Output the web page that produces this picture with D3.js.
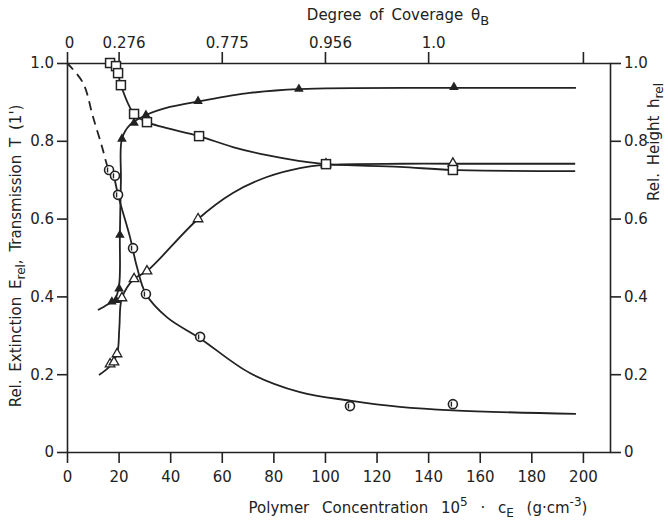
<!DOCTYPE html>
<html>
<head>
<meta charset="utf-8">
<script src="https://cdn.jsdelivr.net/npm/d3@7"></script>
<style>
  body { margin: 0; background: #fff; }
  text { font-family: 'DejaVu Sans', sans-serif; fill: #222; }
  .axis path, .axis line { stroke: #222; stroke-width: 1.6; }
  .axis text { font-size: 15px; }
  .curve { fill: none; stroke: #222; stroke-width: 1.8; }
  .title { font-size: 15px; word-spacing: 3px; }
</style>
</head>
<body>
<svg width="668" height="523"></svg>
<script>
// polymer concentration (x) and values
var xTicks = [0, 20, 40, 60, 80, 100, 120, 140, 160, 180, 200]
var yTicks = [0, 0.2, 0.4, 0.6, 0.8, 1.0]
var topTickPos = [0, 20, 60, 100, 140, 200]
var topTickLabels = ['0', '0.276', '0.775', '0.956', '1.0', '']

// filled triangles
var filledTriX = [17.4, 19, 20.2, 20.5, 21.3, 26, 30.6, 50.8, 89.9, 150]
var filledTriY = [0.386, 0.39, 0.42, 0.558, 0.805, 0.846, 0.866, 0.902, 0.933, 0.938]
var filledCurveX = [12, 15.9, 18.6, 20.2, 20.5, 20.9, 21.3, 24.4, 30.6, 39.9, 51.6, 70.9, 89.9, 150, 197.3]
var filledCurveY = [0.365, 0.38, 0.393, 0.429, 0.558, 0.699, 0.805, 0.841, 0.866, 0.887, 0.902, 0.923, 0.933, 0.936, 0.936]

// open triangles
var openTriX = [16.7, 18.2, 19.4, 21.3, 26, 31, 50.8, 100.4, 149.6]
var openTriY = [0.226, 0.231, 0.252, 0.396, 0.445, 0.465, 0.599, 0.74, 0.742]
var openCurveX = [12.4, 16.7, 19.4, 20.3, 21.3, 26, 31, 50.8, 64.3, 77.5, 90.3, 100.4, 130, 149.6, 197]
var openCurveY = [0.198, 0.221, 0.252, 0.32, 0.396, 0.445, 0.465, 0.599, 0.666, 0.707, 0.73, 0.738, 0.741, 0.741, 0.741]

// open squares
var squareX = [16.7, 19, 19.8, 20.9, 26, 31, 51.2, 100.4, 149.6]
var squareY = [1.0, 0.992, 0.974, 0.943, 0.869, 0.848, 0.812, 0.74, 0.725]
var squareCurveX = [16.7, 19, 19.8, 20.9, 26, 31, 51.2, 64.3, 77.5, 90.3, 100.4, 129, 149.6, 197]
var squareCurveY = [1.0, 0.992, 0.974, 0.943, 0.869, 0.848, 0.812, 0.784, 0.763, 0.748, 0.74, 0.733, 0.725, 0.722]

// circles (transmission)
var circleX = [16.3, 18.6, 19.8, 25.6, 30.6, 51.6, 109.7, 149.6]
var circleY = [0.725, 0.71, 0.661, 0.524, 0.406, 0.296, 0.118, 0.123]
var circleCurveX = [17.8, 19.8, 24.4, 27.1, 30.6, 38.8, 51.6, 70.9, 90.3, 109.7, 129, 149.6, 197.3]
var circleCurveY = [0.725, 0.661, 0.553, 0.476, 0.406, 0.346, 0.292, 0.203, 0.154, 0.132, 0.116, 0.107, 0.098]
var dashedX = [0, 6.2, 10.1, 13.6, 15.5, 16.3]
var dashedY = [1.0, 0.949, 0.861, 0.784, 0.738, 0.725]

function zip(xs, ys) { return xs.map(function(d, i) { return [d, ys[i]] }) }

var svg = d3.select('svg')
var x = d3.scaleLinear().domain([0, 210.5]).range([67, 610])
var y = d3.scaleLinear().domain([0, 1]).range([452, 63])
var fmt = function(d) { return d === 0 ? '0' : d.toFixed(1) }

svg.append('g').attr('class', 'axis')
  .attr('transform', 'translate(0,452)')
  .call(d3.axisBottom(x).tickValues(xTicks).tickSize(11).tickSizeOuter(0).tickPadding(8))
var topAxis = svg.append('g').attr('class', 'axis')
  .attr('transform', 'translate(0,63)')
  .call(d3.axisTop(x).tickValues(topTickPos).tickSize(11).tickSizeOuter(0).tickPadding(4)
    .tickFormat(function(d, i) { return topTickLabels[i] }))
topAxis.selectAll('.tick text').attr('dx', function(d) { return d === 0 ? 2 : 5 })
svg.append('g').attr('class', 'axis')
  .attr('transform', 'translate(67,0)')
  .call(d3.axisLeft(y).tickValues(yTicks).tickSize(10).tickSizeOuter(0).tickPadding(3).tickFormat(fmt))
svg.append('g').attr('class', 'axis')
  .attr('transform', 'translate(610,0)')
  .call(d3.axisRight(y).tickValues(yTicks).tickSize(11).tickSizeOuter(0).tickPadding(3).tickFormat(fmt))

// axis titles
var bt = svg.append('text').attr('class', 'title').attr('x', 418).attr('y', 513).attr('text-anchor', 'middle')
  .style('word-spacing', '8px')
bt.append('tspan').text('Polymer  Concentration  10')
bt.append('tspan').attr('dy', -7).style('font-size', '12px').text('5')
bt.append('tspan').attr('dy', 7).text(' \u00b7 c')
bt.append('tspan').attr('dy', 4).style('font-size', '12px').text('E')
bt.append('tspan').attr('dy', -4).text(' (g\u00b7cm')
bt.append('tspan').attr('dy', -7).style('font-size', '12px').text('-3')
bt.append('tspan').attr('dy', 7).text(')')

var tt = svg.append('text').attr('class', 'title').attr('x', 398).attr('y', 20).attr('text-anchor', 'middle')
tt.append('tspan').text('Degree of Coverage \u03b8')
tt.append('tspan').attr('dy', 5).style('font-size', '13px').text('B')

var lt = svg.append('text').attr('class', 'title').attr('transform', 'translate(21,256) rotate(-90)')
  .attr('text-anchor', 'middle')
lt.append('tspan').text('Rel. Extinction  E')
lt.append('tspan').attr('dy', 4).style('font-size', '12px').text('rel')
lt.append('tspan').attr('dy', -4).text(',  Transmission T (1\')')

var rt = svg.append('text').attr('class', 'title').attr('transform', 'translate(659,142) rotate(-90)')
  .attr('text-anchor', 'middle')
rt.append('tspan').text('Rel.  Height   h')
rt.append('tspan').attr('dy', 4).style('font-size', '12px').text('rel')

// curves
var line = d3.line().x(function(d) { return x(d[0]) }).y(function(d) { return y(d[1]) })
  .curve(d3.curveCatmullRom.alpha(0.5))
var curves = [zip(filledCurveX, filledCurveY), zip(openCurveX, openCurveY), zip(squareCurveX, squareCurveY), zip(circleCurveX, circleCurveY)]
svg.selectAll('path.curve').data(curves).enter().append('path')
  .attr('class', 'curve').attr('d', line)
svg.append('path').datum(zip(dashedX, dashedY)).attr('class', 'curve')
  .attr('stroke-dasharray', '9,6').attr('d', line)

// markers
var tri = d3.symbol().type(d3.symbolTriangle).size(40)
svg.selectAll('path.ftri').data(zip(filledTriX, filledTriY)).enter().append('path')
  .attr('class', 'ftri').attr('d', tri)
  .attr('transform', function(d) { return 'translate(' + x(d[0]) + ',' + y(d[1]) + ')' })
  .attr('fill', '#222')
svg.selectAll('path.otri').data(zip(openTriX, openTriY)).enter().append('path')
  .attr('class', 'otri').attr('d', tri)
  .attr('transform', function(d) { return 'translate(' + x(d[0]) + ',' + y(d[1]) + ')' })
  .attr('fill', '#fff').attr('stroke', '#222').attr('stroke-width', 1.3)
svg.selectAll('rect.sq').data(zip(squareX, squareY)).enter().append('rect')
  .attr('class', 'sq')
  .attr('x', function(d) { return x(d[0]) - 4.5 }).attr('y', function(d) { return y(d[1]) - 4.5 })
  .attr('width', 9).attr('height', 9)
  .attr('fill', '#fff').attr('stroke', '#222').attr('stroke-width', 1.5)
var circ = svg.selectAll('g.circ').data(zip(circleX, circleY)).enter().append('g')
  .attr('transform', function(d) { return 'translate(' + x(d[0]) + ',' + y(d[1]) + ')' })
circ.append('circle').attr('r', 4.5).attr('fill', '#fff').attr('stroke', '#222').attr('stroke-width', 1.6)
circ.append('line').attr('x1', -1.5).attr('x2', -1.5).attr('y1', -2.5).attr('y2', 2.5)
  .attr('stroke', '#222').attr('stroke-width', 1.4)
</script>
</body>
</html>
